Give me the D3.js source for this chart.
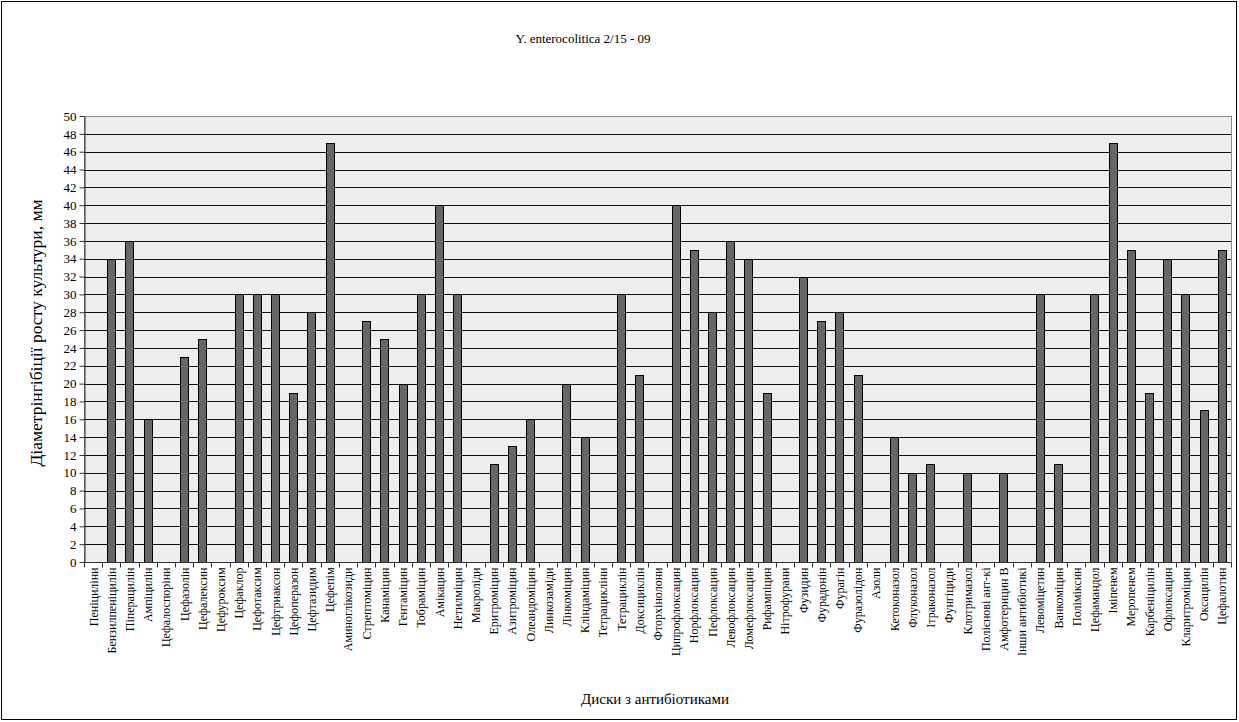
<!DOCTYPE html>
<html>
<head>
<meta charset="utf-8">
<script src="https://cdn.jsdelivr.net/npm/d3@7"></script>
<style>
  html, body { margin: 0; padding: 0; background: #fff; }
  svg { display: block; }
  svg text { font-family: "Liberation Serif", "Times New Roman", serif !important; fill: #000; }
</style>
</head>
<body>
<svg id="chart" width="1239" height="722"></svg>
<script>
const chartTitle = "Y. enterocolitica 2/15 - 09";
const yAxisTitle = "Діаметрінгібіції росту культури, мм";
const xAxisTitle = "Диски з антибіотиками";

const categories = [
  "Пеніциліни", "Бензилпеніцилін", "Піперацилін", "Ампіцилін", "Цефалоспоріни",
  "Цефазолін", "Цефалексин", "Цефуроксим", "Цефаклор", "Цефотаксим",
  "Цефтриаксон", "Цефоперазон", "Цефтазидим", "Цефепім", "Аминоглікозиди",
  "Стрептоміцин", "Канаміцин", "Гентаміцин", "Тобраміцин", "Амікацин",
  "Нетилміцин", "Макроліди", "Еритроміцин", "Азитроміцин", "Олеандоміцин",
  "Линкозаміди", "Лінкоміцин", "Кліндаміцин", "Тетрацикліни", "Тетрациклін",
  "Доксициклін", "Фторхінолони", "Ципрофлоксацин", "Норфлоксацин", "Пефлоксацин",
  "Левофлоксацин", "Ломефлоксацин", "Рифампіцин", "Нітрофурани", "Фузидин",
  "Фурадонін", "Фурагін", "Фуразолідон", "Азоли", "Кетоконазол",
  "Флуконазол", "Ітраконазол", "Фунгіциди", "Клотримазол", "Полієнові ант-кі",
  "Амфотерицин В", "Інши антибіотикі", "Левоміцетин", "Ванкоміцин", "Поліміксин",
  "Цефамандол", "Іміпенем", "Меропенем", "Карбеніцилін", "Офлоксацин",
  "Кларитроміцин", "Оксацилін", "Цефалотин"
];

const values = [
  0, 34, 36, 16, 0,
  23, 25, 0, 30, 30,
  30, 19, 28, 47, 0,
  27, 25, 20, 30, 40,
  30, 0, 11, 13, 16,
  0, 20, 14, 0, 30,
  21, 0, 40, 35, 28,
  36, 34, 19, 0, 32,
  27, 28, 21, 0, 14,
  10, 11, 0, 10, 0,
  10, 0, 30, 11, 0,
  30, 47, 35, 19, 34,
  30, 17, 35
];

const yTicks = d3.range(0, 51, 2);

const FONT = '"Liberation Serif", "Times New Roman", serif';
const svg = d3.select("#chart");
const W = 1239, H = 722;
const plot = { left: 84, right: 1231, top: 116, bottom: 562 };

// outer border
svg.append("rect")
  .attr("x", 1.5).attr("y", 1.5)
  .attr("width", W - 4).attr("height", H - 4)
  .attr("fill", "#fff").attr("stroke", "#000").attr("stroke-width", 1);

const x = d3.scaleBand()
  .domain(categories)
  .range([plot.left, plot.right])
  .paddingInner(0.55).paddingOuter(0.275);

const xOuter = d3.scaleBand()
  .domain(categories)
  .range([plot.left, plot.right])
  .padding(0);

const y = d3.scaleLinear().domain([0, 50]).range([plot.bottom, plot.top]);

// plot background
svg.append("rect")
  .attr("x", plot.left + 0.5).attr("y", plot.top + 0.5)
  .attr("width", plot.right - plot.left).attr("height", plot.bottom - plot.top)
  .attr("fill", "#eeeeee").attr("stroke", "#8c8c8c").attr("stroke-width", 1);

// gridlines
svg.append("g")
  .selectAll("line")
  .data(yTicks.filter(t => t > 0 && t < 50))
  .join("line")
  .attr("x1", plot.left).attr("x2", plot.right)
  .attr("y1", d => Math.round(y(d)) + 0.5).attr("y2", d => Math.round(y(d)) + 0.5)
  .attr("stroke", "#111").attr("stroke-width", 1);

// bars
svg.append("g")
  .selectAll("rect")
  .data(categories.map((c, i) => ({ c, v: values[i] })).filter(d => d.v > 0))
  .join("rect")
  .attr("x", d => Math.round(x(d.c)) + 0.5)
  .attr("y", d => Math.round(y(d.v)) + 0.5)
  .attr("width", Math.round(x.bandwidth()))
  .attr("height", d => Math.round(y(0)) - Math.round(y(d.v)))
  .attr("fill", "#666666").attr("stroke", "#000").attr("stroke-width", 1);

// y axis
const yAxis = d3.axisLeft(y).tickValues(yTicks).tickSize(5).tickSizeOuter(0).tickPadding(3);
const gy = svg.append("g").attr("transform", `translate(${plot.left + 0.5},0)`).call(yAxis)
  .attr("font-family", FONT);
gy.select(".domain").attr("stroke", "#333");
gy.selectAll(".tick line").attr("stroke", "#333");
gy.selectAll(".tick text")
  .style("font-family", FONT)
  .style("font-size", "13px").attr("fill", "#000");

// x axis
const gx = svg.append("g").attr("transform", `translate(0,${plot.bottom + 0.5})`);
gx.append("line")
  .attr("x1", plot.left).attr("x2", plot.right)
  .attr("stroke", "#333");
const bounds = categories.map(c => xOuter(c)).concat([plot.right]);
gx.selectAll("line.tk")
  .data(bounds)
  .join("line").attr("class", "tk")
  .attr("x1", d => Math.round(d) + 0.5).attr("x2", d => Math.round(d) + 0.5)
  .attr("y1", 0).attr("y2", 5)
  .attr("stroke", "#333");
gx.selectAll("text")
  .data(categories)
  .join("text")
  .attr("transform", d => `translate(${x(d) + x.bandwidth() / 2 + 4.5},5) rotate(-90)`)
  .attr("text-anchor", "end")
  .style("font-family", FONT)
  .style("font-size", "12px")
  .text(d => d);

// title
svg.append("text")
  .attr("x", 583).attr("y", 43)
  .attr("text-anchor", "middle")
  .style("font-family", FONT)
  .style("font-size", "13px")
  .text(chartTitle);

// y axis title
svg.append("text")
  .attr("transform", `translate(42,${(plot.top + plot.bottom) / 2 - 6}) rotate(-90)`)
  .attr("text-anchor", "middle")
  .style("font-family", FONT)
  .style("font-size", "17.5px")
  .text(yAxisTitle);

// x axis title
svg.append("text")
  .attr("x", 655).attr("y", 704)
  .attr("text-anchor", "middle")
  .style("font-family", FONT)
  .style("font-size", "15px")
  .text(xAxisTitle);
</script>
</body>
</html>
